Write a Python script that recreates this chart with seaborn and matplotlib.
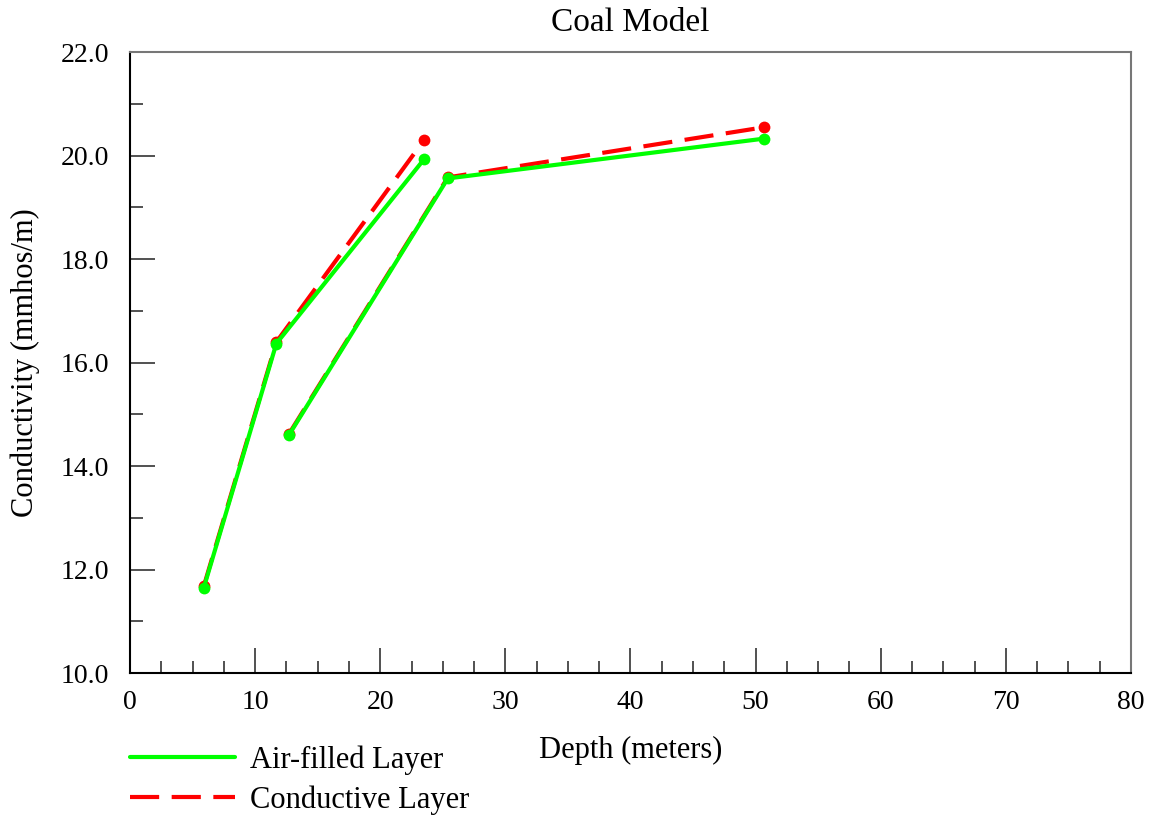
import matplotlib
matplotlib.use("Agg")
import matplotlib.pyplot as plt
from matplotlib.lines import Line2D
from matplotlib.ticker import MultipleLocator, FormatStrFormatter
import seaborn as sns
import pandas as pd

# Survey depths (m) for the two sounding sets
depth_set1 = [5.9, 11.7, 23.5]
depth_set2 = [12.7, 25.4, 50.7]

# Apparent conductivity (mmhos/m) for each model
air_set1 = [11.65, 16.37, 19.93]
air_set2 = [14.60, 19.56, 20.33]
cond_set1 = [11.68, 16.40, 20.30]
cond_set2 = [14.62, 19.58, 20.55]

layers = ["Air-filled Layer", "Conductive Layer"]
colors = {"Air-filled Layer": "#00ff00", "Conductive Layer": "#ff0000"}

rows = []
for layer, s1, s2 in [(layers[0], air_set1, air_set2), (layers[1], cond_set1, cond_set2)]:
    for d, v in zip(depth_set1, s1):
        rows.append({"layer": layer, "set": 1, "depth": d, "cond": v})
    for d, v in zip(depth_set2, s2):
        rows.append({"layer": layer, "set": 2, "depth": d, "cond": v})
df = pd.DataFrame(rows)

sns.set_theme(style="white")
plt.rcParams["font.family"] = ["Liberation Serif", "DejaVu Serif"]
plt.rcParams["text.color"] = "black"
plt.rcParams["axes.labelcolor"] = "black"

fig = plt.figure(figsize=(11.5, 8.15), dpi=100)
ax = fig.add_axes([0.113, 0.174, 0.8705, 0.762])

lw = 3.0
dash = (7.0, 3.0)
# conductive layer first so the air-filled curve sits on top
for layer in [layers[1], layers[0]]:
    sub = df[df["layer"] == layer]
    sns.lineplot(data=sub, x="depth", y="cond", units="set", estimator=None,
                 color=colors[layer], linewidth=lw, marker="o", markersize=8.5,
                 markeredgewidth=0, sort=False, ax=ax, legend=False,
                 dashes=False)
    if layer == layers[1]:
        for ln in ax.get_lines():
            ln.set_dashes(dash)

ax.set_xlim(0, 80)
ax.set_ylim(10, 22)
ax.xaxis.set_major_locator(MultipleLocator(10))
ax.xaxis.set_minor_locator(MultipleLocator(2.5))
ax.yaxis.set_major_locator(MultipleLocator(2))
ax.yaxis.set_minor_locator(MultipleLocator(1))
ax.yaxis.set_major_formatter(FormatStrFormatter("%.1f"))

ax.tick_params(which="both", direction="in", bottom=True, left=True,
               top=False, right=False, colors="#333333", labelcolor="black")
ax.tick_params(which="major", length=18, width=1.2, labelsize=20)
ax.tick_params(axis="x", which="major", pad=12)
ax.tick_params(axis="y", which="major", pad=15)
ax.tick_params(which="minor", length=9, width=1.2)

for side in ["left", "bottom"]:
    ax.spines[side].set_color("black")
    ax.spines[side].set_linewidth(1.5)
for side in ["top", "right"]:
    ax.spines[side].set_color("#777777")
    ax.spines[side].set_linewidth(1.5)

ax.set_title("Coal Model", fontsize=24, pad=15)
ax.set_xlabel("Depth (meters)", fontsize=22, labelpad=15)
ax.set_ylabel("Conductivity (mmhos/m)", fontsize=22, labelpad=15)

handles = [
    Line2D([], [], color=colors[layers[0]], linewidth=lw),
    Line2D([], [], color=colors[layers[1]], linewidth=lw, dashes=dash),
]
fig.legend(handles, layers, loc="lower left", bbox_to_anchor=(0.113, 0.0),
           frameon=False, fontsize=22, handlelength=3.43, handletextpad=0.5,
           labelspacing=0.34, borderaxespad=0.0, borderpad=0.0)

fig.savefig("out.png", dpi=100)
